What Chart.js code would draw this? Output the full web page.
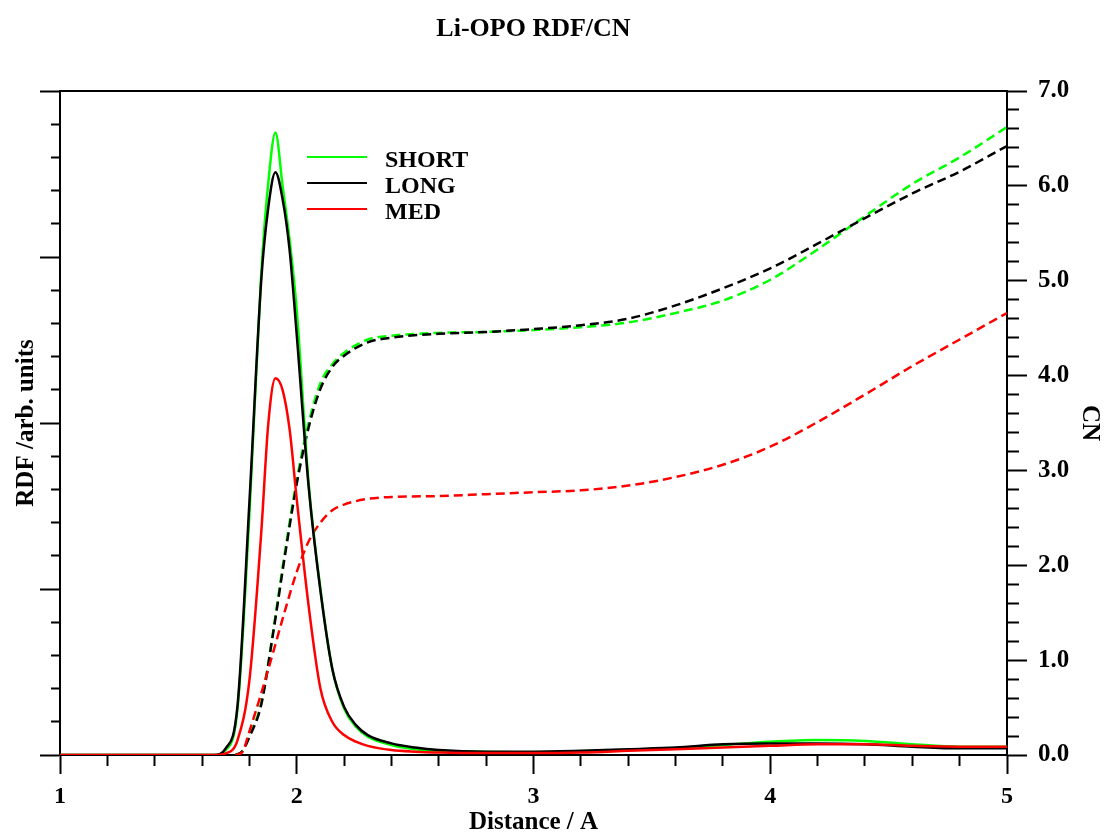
<!DOCTYPE html>
<html>
<head>
<meta charset="utf-8">
<title>Li-OPO RDF/CN</title>
<script src="https://cdn.jsdelivr.net/npm/chart.js@4.4.0/dist/chart.umd.min.js"></script>
<style>
  html, body { margin: 0; padding: 0; background: #fff; }
  #wrap { position: relative; width: 1104px; height: 834px; }
  #legend { position: absolute; left: 307px; top: 144px; font: bold 24px "Liberation Serif", "Times New Roman", serif; }
  .row { display: flex; align-items: center; height: 26px; }
  .swatch { width: 60px; height: 0; border-top: 2px solid; margin-right: 18px; }
  .row span { padding-top: 4px; }
</style>
</head>
<body>
<div id="wrap">
  <canvas id="chart" width="1104" height="834"></canvas>
  <div id="legend"></div>
</div>
<script>
// RDF curves (left axis, arbitrary units)
const rdfR = [1.0, 1.6, 1.65, 1.7, 1.75, 1.8, 1.85, 1.88, 1.91, 1.94, 1.97, 2.0, 2.05, 2.1, 2.15, 2.2, 2.25, 2.3, 2.4, 2.5, 2.6, 2.8, 3.0, 3.2, 3.4, 3.6, 3.8, 4.0, 4.2, 4.4, 4.6, 4.8, 5.0];
const rdfShort = [0, 0, 0, 0.03, 0.28, 1.45, 2.9, 3.45, 3.75, 3.43, 3.1, 2.68, 1.64, 1.0, 0.52, 0.28, 0.17, 0.11, 0.06, 0.035, 0.025, 0.02, 0.015, 0.02, 0.03, 0.04, 0.06, 0.08, 0.09, 0.085, 0.065, 0.05, 0.05];
const rdfLong = [0, 0, 0, 0.04, 0.3, 1.52, 2.86, 3.3, 3.51, 3.35, 3.04, 2.53, 1.62, 0.99, 0.52, 0.29, 0.18, 0.12, 0.07, 0.045, 0.03, 0.02, 0.02, 0.025, 0.035, 0.045, 0.065, 0.07, 0.07, 0.065, 0.05, 0.04, 0.04];
const rdfMed = [0, 0, 0, 0.01, 0.09, 0.45, 1.34, 2.0, 2.27, 2.2, 1.96, 1.54, 0.9, 0.4, 0.2, 0.12, 0.08, 0.055, 0.03, 0.02, 0.015, 0.012, 0.012, 0.015, 0.025, 0.035, 0.045, 0.055, 0.065, 0.065, 0.055, 0.05, 0.05];

// coordination numbers (right axis)
const cnR = [1.74, 1.77, 1.8, 1.85, 1.9, 1.95, 2.0, 2.05, 2.1, 2.15, 2.2, 2.3, 2.4, 2.6, 2.8, 3.0, 3.2, 3.4, 3.6, 3.8, 4.0, 4.2, 4.4, 4.6, 4.8, 5.0];
const cnShort = [0.0, 0.04, 0.2, 0.55, 1.3, 2.14, 2.9, 3.5, 3.92, 4.12, 4.24, 4.38, 4.42, 4.45, 4.46, 4.48, 4.51, 4.56, 4.66, 4.79, 5.01, 5.33, 5.68, 6.02, 6.3, 6.62];
const cnLong = [0.0, 0.04, 0.19, 0.53, 1.28, 2.1, 2.86, 3.45, 3.86, 4.09, 4.21, 4.35, 4.4, 4.44, 4.46, 4.49, 4.53, 4.6, 4.74, 4.92, 5.13, 5.39, 5.66, 5.92, 6.15, 6.42];
const cnMed = [0.0, 0.03, 0.25, 0.65, 1.08, 1.52, 1.93, 2.25, 2.45, 2.58, 2.64, 2.7, 2.72, 2.73, 2.75, 2.77, 2.79, 2.84, 2.93, 3.06, 3.25, 3.51, 3.8, 4.1, 4.38, 4.66];

const seriesNames = ['SHORT', 'LONG', 'MED'];
const seriesColors = ['#00ff00', '#000000', '#ff0000'];

const serif = '"Liberation Serif", "Times New Roman", serif';
Chart.defaults.font.family = serif;
Chart.defaults.font.weight = 'bold';
Chart.defaults.color = '#000';

function pts(xs, ys) {
	return xs.map((x, i) => ({ x: x, y: ys[i] }));
}

function isMajor(v) {
	return Math.abs(v - Math.round(v)) < 1e-6;
}

// minor ticks are shortened with a dash pattern on the tick line
function minorDash(pattern) {
	return ctx => (ctx.tick && !isMajor(ctx.tick.value) ? pattern : []);
}

const rdfSets = [rdfShort, rdfLong, rdfMed];
const cnSets = [cnShort, cnLong, cnMed];
const drawOrder = [3, 2, 1];

const datasets = [];
for (let i in seriesNames) {
	datasets.push({
		label: seriesNames[i],
		data: pts(rdfR, rdfSets[i]),
		borderColor: seriesColors[i],
		borderWidth: 2.5,
		yAxisID: 'y',
		order: drawOrder[i]
	});
}
for (let i in seriesNames) {
	datasets.push({
		label: seriesNames[i] + ' CN',
		data: pts(cnR, cnSets[i]),
		borderColor: seriesColors[i],
		borderWidth: 2.5,
		borderDash: [9, 5],
		yAxisID: 'y2',
		order: drawOrder[i] + 3
	});
}

const axisBorder = { display: true, color: '#000', width: 2 };

new Chart(document.getElementById('chart'), {
	type: 'line',
	data: { datasets: datasets },
	options: {
		responsive: false,
		animation: false,
		layout: { padding: 0 },
		elements: {
			point: { radius: 0 },
			line: { cubicInterpolationMode: 'monotone', fill: false }
		},
		plugins: {
			legend: { display: false },
			tooltip: { enabled: false },
			title: {
				display: true,
				text: 'Li-OPO RDF/CN',
				fullSize: false,
				color: '#000',
				font: { size: 26, weight: 'bold', lineHeight: 1 },
				padding: { top: 16, bottom: 49 }
			}
		},
		scales: {
			x: {
				type: 'linear',
				position: 'bottom',
				min: 1,
				max: 5,
				afterFit: s => { s.height = 79; },
				border: axisBorder,
				grid: {
					drawOnChartArea: false,
					tickLength: 19,
					tickWidth: 2,
					tickColor: '#000',
					tickBorderDash: minorDash([10, 40])
				},
				ticks: {
					stepSize: 0.2,
					autoSkip: false,
					maxRotation: 0,
					padding: 8,
					color: '#000',
					font: { size: 24 },
					callback: v => (isMajor(v) ? String(Math.round(v)) : '')
				},
				title: {
					display: true,
					text: 'Distance / A',
					color: '#000',
					font: { size: 25, lineHeight: 0.9 },
					padding: 0
				}
			},
			xTop: {
				type: 'linear',
				position: 'top',
				min: 1,
				max: 5,
				afterFit: s => { s.height = 0; },
				border: axisBorder,
				grid: { drawOnChartArea: false, drawTicks: false },
				ticks: { display: false }
			},
			y: {
				position: 'left',
				min: 0,
				max: 4,
				afterFit: s => { s.width = 60; },
				border: axisBorder,
				grid: {
					drawOnChartArea: false,
					tickLength: 20,
					tickWidth: 2,
					tickColor: '#000',
					tickBorderDash: minorDash([0, 11, 9, 40])
				},
				ticks: { stepSize: 0.2, autoSkip: false, callback: () => '' },
				title: {
					display: true,
					text: 'RDF /arb. units',
					color: '#000',
					font: { size: 25, lineHeight: 1 },
					padding: { top: 14, bottom: 0 }
				}
			},
			y2: {
				position: 'right',
				min: 0,
				max: 7,
				afterFit: s => { s.width = 97; },
				border: axisBorder,
				grid: {
					drawOnChartArea: false,
					tickLength: 20,
					tickWidth: 2,
					tickColor: '#000',
					tickBorderDash: minorDash([11, 40])
				},
				ticks: {
					stepSize: 0.2,
					autoSkip: false,
					padding: 11,
					color: '#000',
					font: { size: 25 },
					callback: v => (isMajor(v) ? v.toFixed(1) : '')
				},
				title: {
					display: true,
					text: 'CN',
					color: '#000',
					font: { size: 25, lineHeight: 1 },
					padding: { top: 2, bottom: 0 }
				}
			}
		}
	}
});

// legend for the RDF curves
const legend = document.getElementById('legend');
for (let i in seriesNames) {
	const row = document.createElement('div');
	row.className = 'row';
	const sw = document.createElement('div');
	sw.className = 'swatch';
	sw.style.borderColor = seriesColors[i];
	const txt = document.createElement('span');
	txt.textContent = seriesNames[i];
	row.appendChild(sw);
	row.appendChild(txt);
	legend.appendChild(row);
}
</script>
</body>
</html>
